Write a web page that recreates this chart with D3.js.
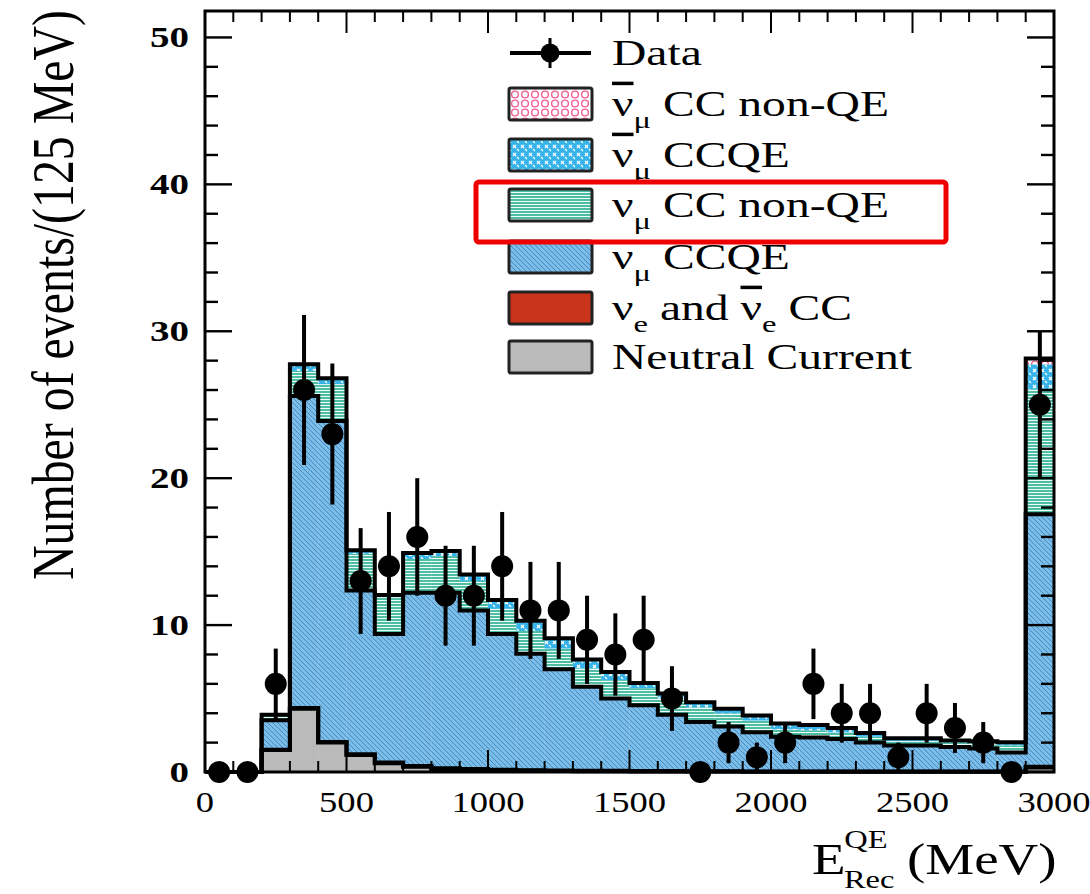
<!DOCTYPE html>
<html>
<head>
<meta charset="utf-8">
<script src="https://cdn.jsdelivr.net/npm/d3@7"></script>
<style>
  body { margin: 0; background: #fff; }
  text { font-family: "Liberation Serif", "DejaVu Serif", serif; fill: #000; }
</style>
</head>
<body>
<svg id="chart" width="1090" height="894"></svg>
<script>
// bin low edges, 100 MeV wide (last one is the overflow bin)
const binEdges = d3.range(0, 3000, 100);
const binWidth = 100;

// MC components, events per bin
const ncVals = [0, 0, 1.5, 4.3, 2.0, 1.15, 0.6, 0.35, 0.2, 0.15, 0.1, 0.08, 0.06, 0.05, 0.05, 0.04, 0.03, 0.03, 0.03, 0.02, 0.02, 0.02, 0.02, 0.02, 0.02, 0.02, 0.02, 0.02, 0.02, 0.3];
const nueVals = [0, 0, 0.02, 0.05, 0.05, 0.05, 0.05, 0.05, 0.05, 0.05, 0.05, 0.04, 0.04, 0.03, 0.03, 0.03, 0.03, 0.02, 0.02, 0.02, 0.02, 0.02, 0.02, 0.02, 0.02, 0.02, 0.02, 0.02, 0.02, 0.05];
const numuCCQE = [0, 0, 2.0, 21.25, 21.85, 11.15, 8.75, 11.8, 11.95, 10.8, 9.25, 7.93, 6.9, 5.72, 4.92, 4.48, 3.84, 3.35, 3.05, 2.66, 2.36, 2.3, 2.2, 1.96, 1.76, 1.76, 1.66, 1.56, 1.28, 17.2];
const numuNonQE = [0, 0, 0.3, 1.7, 2.5, 2.5, 2.5, 2.3, 2.5, 2.0, 1.7, 1.55, 1.4, 1.25, 1.25, 1.15, 1.1, 1.0, 0.9, 0.8, 0.5, 0.5, 0.45, 0.4, 0.3, 0.3, 0.3, 0.35, 0.5, 8.5];
const numubarCCQE = [0, 0, 0.05, 0.35, 0.3, 0.2, 0.1, 0.3, 0.3, 0.4, 0.5, 0.6, 0.6, 0.5, 0.45, 0.3, 0.3, 0.3, 0.25, 0.3, 0.35, 0.3, 0.25, 0.2, 0.15, 0.15, 0.1, 0.1, 0.15, 1.7];
const numubarNonQE = [0, 0, 0.02, 0.1, 0.1, 0.05, 0.05, 0.1, 0.05, 0.05, 0.1, 0.1, 0.1, 0.1, 0.1, 0.05, 0.05, 0.05, 0.05, 0.05, 0.05, 0.06, 0.06, 0.05, 0.05, 0.05, 0.05, 0.05, 0.05, 0.4];

// data points and their error bars
const dataVals = [0, 0, 6, 26, 23, 13, 14, 16, 12, 12, 14, 11, 11, 9, 8, 9, 5, 0, 2, 1, 2, 6, 4, 4, 1, 4, 3, 2, 0, 25];
const dataErr = [0, 0, 2.4, 5.1, 4.8, 3.6, 3.7, 4.0, 3.4, 3.4, 3.7, 3.3, 3.3, 3.0, 2.8, 3.0, 2.2, 0, 1.4, 1.0, 1.4, 2.4, 2.0, 2.0, 1.0, 2.0, 1.7, 1.4, 0, 5.0];

const xTicks = [0, 500, 1000, 1500, 2000, 2500, 3000];
const yTicks = [0, 10, 20, 30, 40, 50];

const svg = d3.select("#chart");
const defs = svg.append("defs");

const x = d3.scaleLinear().domain([0, 3000]).range([205, 1054]);
const y = d3.scaleLinear().domain([0, 51.8]).range([772, 11]);

// ---- fill patterns (ROOT-like hatches)
const pCCQE = defs.append("pattern").attr("id", "pCCQE")
  .attr("patternUnits", "userSpaceOnUse").attr("width", 5).attr("height", 5);
pCCQE.append("rect").attr("width", 5).attr("height", 5).attr("fill", "#7cbde8");
pCCQE.append("path").attr("d", "M0,0L5,5M-1,4L1,6M4,-1L6,1")
  .attr("stroke", "#3f84c2").attr("stroke-width", 0.9);

const pNonQE = defs.append("pattern").attr("id", "pNonQE")
  .attr("patternUnits", "userSpaceOnUse").attr("width", 6).attr("height", 3);
pNonQE.append("rect").attr("width", 6).attr("height", 3).attr("fill", "#4fbda3");
pNonQE.append("path").attr("d", "M0,0.5H6").attr("stroke", "#eefcf8").attr("stroke-width", 1);

const pBarCCQE = defs.append("pattern").attr("id", "pBarCCQE")
  .attr("patternUnits", "userSpaceOnUse").attr("width", 8).attr("height", 8);
pBarCCQE.append("rect").attr("width", 8).attr("height", 8).attr("fill", "#36b4ea");
pBarCCQE.append("path").attr("d", "M1,1L4,4M4,1L1,4M5,5L7,7")
  .attr("stroke", "#fff").attr("stroke-width", 1.2);

const pBarNonQE = defs.append("pattern").attr("id", "pBarNonQE")
  .attr("patternUnits", "userSpaceOnUse").attr("width", 10).attr("height", 9);
pBarNonQE.append("rect").attr("width", 10).attr("height", 9).attr("fill", "#fff");
pBarNonQE.append("circle").attr("cx", 5).attr("cy", 4.5).attr("r", 3.4)
  .attr("fill", "none").attr("stroke", "#ef5f95").attr("stroke-width", 1.4);

// ---- stack
const comps = [
  { key: "nc", vals: ncVals, fill: "#bababa" },
  { key: "nue", vals: nueVals, fill: "#c9341a" },
  { key: "ccqe", vals: numuCCQE, fill: "url(#pCCQE)" },
  { key: "nonqe", vals: numuNonQE, fill: "url(#pNonQE)" },
  { key: "barccqe", vals: numubarCCQE, fill: "url(#pBarCCQE)" },
  { key: "barnonqe", vals: numubarNonQE, fill: "url(#pBarNonQE)" }
];

const table = binEdges.map((e, i) => {
  const row = { edge: e };
  comps.forEach(c => { row[c.key] = c.vals[i]; });
  return row;
});

const stack = d3.stack().keys(comps.map(c => c.key));
const layers = stack(table);

const plot = svg.append("g");

layers.forEach((layer, li) => {
  plot.append("g")
    .selectAll("rect")
    .data(layer)
    .join("rect")
    .attr("x", d => x(d.data.edge))
    .attr("width", x(binWidth) - x(0) + 0.3)
    .attr("y", d => y(d[1]))
    .attr("height", d => Math.max(0, y(d[0]) - y(d[1])))
    .attr("fill", comps[li].fill);
});

// black outlines at the cumulative tops (NC, nue, CCQE, total)
const stepLine = d3.line()
  .x(d => x(d[0]))
  .y(d => y(d[1]))
  .curve(d3.curveStepAfter);

[0, 1, 2, layers.length - 1].forEach(li => {
  const pts = layers[li].map(d => [d.data.edge, d[1]]);
  pts.push([3000, layers[li][layers[li].length - 1][1]]);
  plot.append("path")
    .datum(pts)
    .attr("fill", "none")
    .attr("stroke", "#000")
    .attr("stroke-width", 4)
    .attr("stroke-linejoin", "miter")
    .attr("d", stepLine);
});

// ---- axes frame and ticks (ticks point inward, on all four sides)
const frame = svg.append("g");
const y0 = y(0), yTop = y.range()[1];
const xL = x(0), xR = x(3000);

const minorX = d3.range(0, 3001, 100);
const minorY = d3.range(0, 51, 2);

frame.selectAll(".xt")
  .data(minorX)
  .join("g")
  .each(function (v) {
    const len = v % 500 === 0 ? 22 : 11;
    const g = d3.select(this);
    g.append("line").attr("x1", x(v)).attr("x2", x(v)).attr("y1", y0).attr("y2", y0 - len);
    g.append("line").attr("x1", x(v)).attr("x2", x(v)).attr("y1", yTop).attr("y2", yTop + len);
  })
  .selectAll("line").attr("stroke", "#000").attr("stroke-width", 2);

frame.selectAll(".yt")
  .data(minorY)
  .join("g")
  .each(function (v) {
    const len = v % 10 === 0 ? 27 : 13;
    const g = d3.select(this);
    g.append("line").attr("x1", xL).attr("x2", xL + len).attr("y1", y(v)).attr("y2", y(v));
    g.append("line").attr("x1", xR).attr("x2", xR - len).attr("y1", y(v)).attr("y2", y(v));
  })
  .selectAll("line").attr("stroke", "#000").attr("stroke-width", 2.4);

frame.append("rect")
  .attr("x", xL).attr("y", yTop)
  .attr("width", xR - xL).attr("height", y0 - yTop)
  .attr("fill", "none").attr("stroke", "#000").attr("stroke-width", 3);

// tick labels (the source image is stretched sideways, so scale the text)
frame.selectAll(".xl")
  .data(xTicks)
  .join("text")
  .attr("transform", d => `translate(${x(d)},812) scale(1.22,1)`)
  .attr("text-anchor", "middle")
  .attr("font-size", 30)
  .text(d => d);

frame.selectAll(".yl")
  .data(yTicks)
  .join("text")
  .attr("transform", d => `translate(189,${y(d) + 10}) scale(1.3,1)`)
  .attr("text-anchor", "end")
  .attr("font-size", 30)
  .attr("font-weight", "bold")
  .text(d => d);

// axis titles
svg.append("text")
  .attr("transform", "translate(73,295) scale(1.3,1) rotate(-90)")
  .attr("text-anchor", "middle")
  .attr("font-size", 46)
  .attr("textLength", 570)
  .attr("lengthAdjust", "spacingAndGlyphs")
  .text("Number of events/(125 MeV)");

const xTitle = svg.append("text")
  .attr("transform", "translate(812,874) scale(1.25,1)")
  .attr("font-size", 44);
xTitle.append("tspan").text("E");
xTitle.append("tspan").attr("font-size", 26).attr("dy", -26).attr("dx", -1).text("QE");
xTitle.append("tspan").attr("font-size", 26).attr("dx", -35).attr("dy", 40).text("Rec");
xTitle.append("tspan").attr("dy", -14).attr("dx", 10).text("(MeV)");

// ---- data points
const pts = svg.append("g");
pts.selectAll("line")
  .data(dataVals.map((v, i) => ({ v, e: dataErr[i], c: binEdges[i] + binWidth / 2 })).filter(d => d.e > 0))
  .join("line")
  .attr("x1", d => x(d.c)).attr("x2", d => x(d.c))
  .attr("y1", d => y(d.v - d.e)).attr("y2", d => y(d.v + d.e))
  .attr("stroke", "#000").attr("stroke-width", 4);

pts.selectAll("circle")
  .data(dataVals.map((v, i) => ({ v, c: binEdges[i] + binWidth / 2 })))
  .join("circle")
  .attr("cx", d => x(d.c))
  .attr("cy", d => y(d.v))
  .attr("r", 11)
  .attr("fill", "#000");

// ---- legend
const legendRows = [
  { type: "data", label: [["Data"]] },
  { fill: "url(#pBarNonQE)", label: [["ν", "bar"], ["μ", "sub"], [" CC non-QE"]] },
  { fill: "url(#pBarCCQE)", label: [["ν", "bar"], ["μ", "sub"], [" CCQE"]] },
  { fill: "url(#pNonQE)", label: [["ν"], ["μ", "sub"], [" CC non-QE"]] },
  { fill: "url(#pCCQE)", label: [["ν"], ["μ", "sub"], [" CCQE"]] },
  { fill: "#c9341a", label: [["ν"], ["e", "sub"], [" and "], ["ν", "bar"], ["e", "sub"], [" CC"]] },
  { fill: "#bababa", label: [["Neutral Current"]] }
];
const legendY = [53, 104, 155, 205, 257, 308, 357];

const legend = svg.append("g");
legendRows.forEach((row, i) => {
  const cy = legendY[i];
  if (row.type === "data") {
    legend.append("line").attr("x1", 510).attr("x2", 591).attr("y1", cy).attr("y2", cy)
      .attr("stroke", "#000").attr("stroke-width", 4);
    legend.append("line").attr("x1", 550).attr("x2", 550).attr("y1", cy - 15).attr("y2", cy + 15)
      .attr("stroke", "#000").attr("stroke-width", 3);
    legend.append("circle").attr("cx", 550).attr("cy", cy).attr("r", 9.5).attr("fill", "#000");
  } else {
    legend.append("rect")
      .attr("x", 509).attr("y", cy - 16)
      .attr("width", 83).attr("height", 32)
      .attr("fill", row.fill)
      .attr("stroke", "#222").attr("stroke-width", 3).attr("rx", 2);
  }
  const t = legend.append("text")
    .attr("transform", `translate(612,${cy + 12}) scale(1.36,1)`)
    .attr("font-size", 35);
  let down = false;
  row.label.forEach(([s, kind]) => {
    const ts = t.append("tspan").text(s);
    if (kind === "bar") ts.style("text-decoration", "overline");
    if (kind === "sub") {
      ts.attr("font-size", 24).attr("dy", 12);
      down = true;
    } else if (down) {
      ts.attr("dy", -12);
      down = false;
    }
  });
});

// red highlight box around the numu CC non-QE entry
svg.append("rect")
  .attr("x", 476).attr("y", 182)
  .attr("width", 470).attr("height", 60)
  .attr("rx", 3)
  .attr("fill", "none")
  .attr("stroke", "#ee0000")
  .attr("stroke-width", 5);
</script>
</body>
</html>
